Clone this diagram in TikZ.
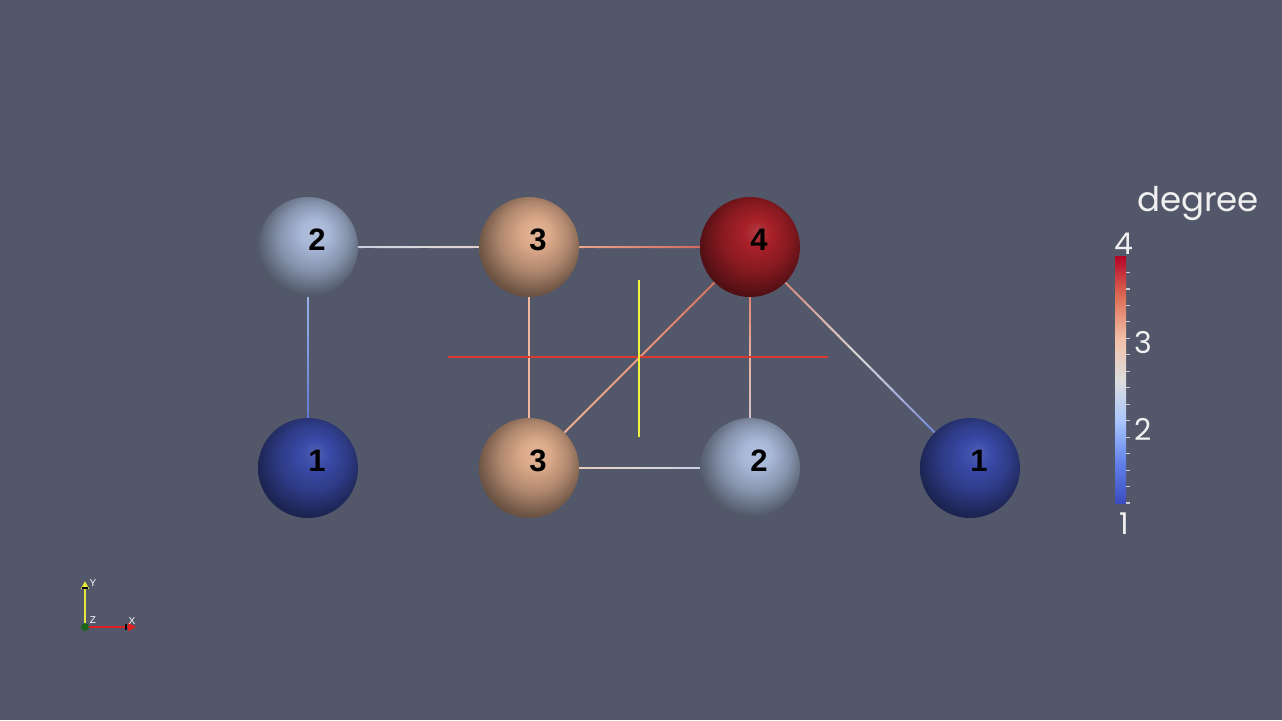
\documentclass[tikz,border=0pt]{standalone}
\usepackage{fontspec}
\setmainfont{Liberation Sans}
\newfontfamily\barfont{Poppins}
\usetikzlibrary{calc,arrows.meta}
\definecolor{bgc}{RGB}{82,87,105}
\definecolor{d1}{HTML}{3A4AA8}
\definecolor{d2}{HTML}{A8B8D8}
\definecolor{d3}{HTML}{DCAA8A}
\definecolor{d4}{HTML}{A82028}
\definecolor{cw1}{RGB}{59,76,192}
\definecolor{cw15}{RGB}{98,130,234}
\definecolor{cw2}{RGB}{170,199,253}
\definecolor{cw25}{RGB}{221,221,221}
\definecolor{cw3}{RGB}{242,192,168}
\definecolor{cw35}{RGB}{222,110,86}
\definecolor{cw4}{RGB}{180,4,38}
% edge colours
\definecolor{eA}{HTML}{B8C6E0}\definecolor{eAm}{HTML}{DADADE}\definecolor{eAe}{HTML}{E4CCBC}
\definecolor{eB}{HTML}{F0B8A0}\definecolor{eBm}{HTML}{E08A78}\definecolor{eBe}{HTML}{C85048}
\definecolor{eC}{HTML}{B0C4F0}\definecolor{eCm}{HTML}{8098E0}\definecolor{eCe}{HTML}{4860C8}
\definecolor{eD}{HTML}{F0B8A0}
\definecolor{eE}{HTML}{F4B8A0}\definecolor{eEm}{HTML}{E89880}\definecolor{eEe}{HTML}{D06050}
\definecolor{eF}{HTML}{D86050}\definecolor{eFm}{HTML}{E8B0A0}\definecolor{eFe}{HTML}{C8D0E8}
\definecolor{eG}{HTML}{F0C0A8}\definecolor{eGm}{HTML}{DCD8D8}\definecolor{eGe}{HTML}{B8C8F0}
\definecolor{eH}{HTML}{D06050}\definecolor{eHm}{HTML}{DDDDDD}\definecolor{eHe}{HTML}{4860D0}
\colorlet{sphc}{white}
\pgfdeclareradialshading[sphc]{sphere}{\pgfpoint{4bp}{8bp}}{color(0bp)=(sphc!88!white); color(7bp)=(sphc); color(17bp)=(sphc!80!black); color(27bp)=(sphc!50!black); color(38bp)=(sphc!32!black); color(50bp)=(sphc!28!black)}
\pgfdeclareverticalshading{coolwarm}{100bp}{color(0bp)=(cw1); color(25bp)=(cw1); color(33.3bp)=(cw15); color(41.7bp)=(cw2); color(50bp)=(cw25); color(58.3bp)=(cw3); color(66.7bp)=(cw35); color(75bp)=(cw4); color(100bp)=(cw4)}
\pgfdeclarelayer{back}
\pgfsetlayers{back,main}
\newcommand\gradedge[5]{%
  \foreach \i in {0,...,19}{%
    \pgfmathsetmacro\ea{\i/20}%
    \pgfmathsetmacro\eb{(\i+1)/20}%
    \pgfmathtruncatemacro\et{(\i+0.5)*10}%
    \ifnum\et<100 \pgfmathtruncatemacro\ep{100-\et}\colorlet{ec}{#3!\ep!#4}%
    \else \pgfmathtruncatemacro\ep{200-\et}\colorlet{ec}{#4!\ep!#5}\fi
    \draw[edge,ec] ($(#1.center)!\ea!(#2.center)$) -- ($(#1.center)!\eb!(#2.center)$);
  }}
\tikzset{
  sph/.code={\colorlet{sphc}{#1}},
  ball/.style={circle, minimum size=50pt, inner sep=0pt, shading=sphere, sph=#1},
  numlab/.style={xshift=4.5pt, yshift=3.8pt, font=\fontsize{15.5}{15.5}\selectfont\bfseries, text=black, inner sep=0pt},
  edge/.style={line width=1pt, line cap=round},
  barlab/.style={font=\barfont\fontsize{15}{15}\selectfont, text=white!94!black, inner sep=0pt},
  tickmark/.style={draw=white!80!black, line width=0.6pt},
  axlab/.style={font=\fontsize{5}{5}\selectfont, text=white, inner sep=0pt}
}
\begin{document}
\begin{tikzpicture}[x=0.5pt, y=-0.5pt]
\useasboundingbox (0,0) rectangle (1282,720);
% spheres
\node[ball=d2, label={[numlab,name=l2a]center:2}] (n2a) at (308,247) {};
\node[ball=d3, label={[numlab,name=l3a]center:3}] (n3a) at (529,247) {};
\node[ball=d4, label={[numlab,name=l4]center:4}] (n4) at (750,247) {};
\node[ball=d1, label={[numlab,name=l1a]center:1}] (n1a) at (308,468) {};
\node[ball=d3, label={[numlab,name=l3b]center:3}] (n3b) at (529,468) {};
\node[ball=d2, label={[numlab,name=l2b]center:2}] (n2b) at (750,468) {};
\node[ball=d1, label={[numlab,name=l1b]center:1}] (n1b) at (970,468) {};
\begin{pgfonlayer}{back}
\fill[bgc] (0,0) rectangle (1282,720);
\gradedge{n2a}{n3a}{eA}{eAm}{eAe}
\gradedge{n3a}{n4}{eB}{eBm}{eBe}
\gradedge{n2a}{n1a}{eC}{eCm}{eCe}
\draw[edge, eD] (n3a.center) -- (n3b.center);
\gradedge{n3b}{n4}{eE}{eEm}{eEe}
\gradedge{n4}{n2b}{eF}{eFm}{eFe}
\gradedge{n3b}{n2b}{eG}{eGm}{eGe}
\gradedge{n4}{n1b}{eH}{eHm}{eHe}
% centre marker
\coordinate (rl) at (448,357); \coordinate (rr) at (828,357);
\coordinate (yt) at (639,280); \coordinate (yb) at (639,437);
\draw[line width=1.1pt, color={rgb,255:red,216;green,60;blue,48}] (rl) -- (rr);
\draw[line width=1.1pt, color={rgb,255:red,240;green,240;blue,64}] (yt) -- (yb);
\end{pgfonlayer}
% colour bar
\node[barlab, font=\barfont\fontsize{17}{17}\selectfont] (title) at (1198,203) {degree};
\shade[shading=coolwarm] (1115,256) rectangle (1126,503);
\foreach \k in {1,...,15} \draw[tickmark] (1126,{256+16.47*\k}) -- ++(4,0);
\node[barlab] (b4) at (1124,244) {4};
\node[barlab] (b3) at (1143,343) {3};
\node[barlab] (b2) at (1143,429) {2};
\node[barlab] (b1) at (1124,524) {1};
% orientation axes
\coordinate (O) at (85,627);
\coordinate (Ytip) at (85,581);
\coordinate (Xtip) at (136,627);
\draw[line width=1.2pt, color={rgb,255:red,230;green,230;blue,60}, -{Triangle[length=4pt,width=4pt]}] (O) -- (Ytip);
\draw[line width=1.2pt, color={rgb,255:red,224;green,32;blue,32}, -{Triangle[length=4pt,width=4pt]}] (O) -- (Xtip);
\draw[black, line width=1pt] (82,588) -- (88,588);
\draw[black, line width=1pt] (126,624) -- (126,630);
\fill[color={rgb,255:red,30;green,100;blue,30}] (O) circle[radius=2pt];
\node[axlab] (ay) at (93,583) {Y};
\node[axlab] (az) at (93,620) {Z};
\node[axlab] (ax) at (132,621) {X};
\end{tikzpicture}
\end{document}
